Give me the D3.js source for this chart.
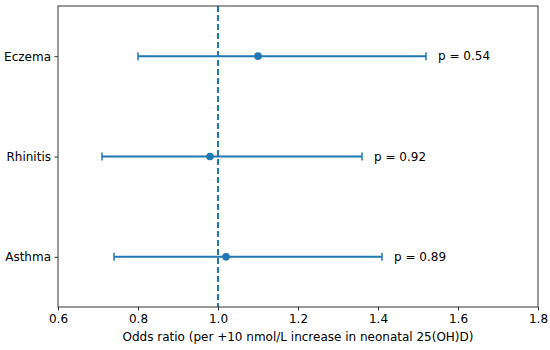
<!DOCTYPE html>
<html><head><meta charset="utf-8">
<script src="https://cdn.jsdelivr.net/npm/d3@7"></script>
<style>body{margin:0;background:#fff}text{font-family:"DejaVu Sans",sans-serif}</style>
</head><body>
<svg id="c" width="550" height="350"></svg>
<script>
const outcomes = ["Asthma", "Rhinitis", "Eczema"];
const oddsRatios = [1.02, 0.98, 1.10];
const lowerCI = [0.74, 0.71, 0.80];
const upperCI = [1.41, 1.36, 1.52];
const pLabels = ["p = 0.89", "p = 0.92", "p = 0.54"];
const xTicks = [0.6, 0.8, 1.0, 1.2, 1.4, 1.6, 1.8];
const xLabel = "Odds ratio (per +10 nmol/L increase in neonatal 25(OH)D)";

const m = {l:58, r:12, t:6, b:43};
const W = 550, H = 350;
const svg = d3.select("#c");
const x = d3.scaleLinear().domain([0.6, 1.8]).range([m.l, W - m.r]);
const y = d3.scaleLinear().domain([-0.5, 2.5]).range([H - m.b, m.t]);
const col = "#1f77b4";

const g = svg.append("g");
// reference line
g.append("line").attr("x1", x(1)).attr("x2", x(1)).attr("y1", m.t).attr("y2", H - m.b)
  .attr("stroke", col).attr("stroke-width", 2).attr("stroke-dasharray", "6,3");

outcomes.forEach((o, i) => {
  const yy = y(i);
  g.append("line").attr("x1", x(lowerCI[i])).attr("x2", x(upperCI[i])).attr("y1", yy).attr("y2", yy)
    .attr("stroke", col).attr("stroke-width", 2);
  [lowerCI[i], upperCI[i]].forEach(v => {
    g.append("line").attr("x1", x(v)).attr("x2", x(v)).attr("y1", yy - 4).attr("y2", yy + 4)
      .attr("stroke", col).attr("stroke-width", 1.5);
  });
  g.append("circle").attr("cx", x(oddsRatios[i])).attr("cy", yy).attr("r", 3.8).attr("fill", col);
  g.append("text").attr("x", x(upperCI[i] + 0.03)).attr("y", yy).attr("dy", "0.35em")
    .attr("font-size", 12).attr("fill", "#000").text(pLabels[i]);
});

// axes
const xa = svg.append("g").attr("transform", `translate(0,${H - m.b})`)
  .call(d3.axisBottom(x).tickValues(xTicks).tickFormat(d3.format(".1f")).tickSizeOuter(0).tickSize(3.5).tickPadding(3.5));
const ya = svg.append("g").attr("transform", `translate(${m.l},0)`)
  .call(d3.axisLeft(y).tickValues([0,1,2]).tickFormat(i => outcomes[i]).tickSizeOuter(0).tickSize(3.5).tickPadding(3.5));
[xa, ya].forEach(a => {
  a.selectAll("text").attr("font-size", 12).attr("fill", "#000").style("font-family", "DejaVu Sans");
  a.selectAll("line").attr("stroke", "#333");
  a.select(".domain").remove();
});
// frame
svg.append("rect").attr("x", m.l).attr("y", m.t).attr("width", W - m.r - m.l).attr("height", H - m.b - m.t)
  .attr("fill", "none").attr("stroke", "#333").attr("stroke-width", 1);

svg.append("text").attr("x", (m.l + W - m.r) / 2).attr("y", 341).attr("text-anchor", "middle")
  .attr("font-size", 12).attr("fill", "#000").text(xLabel);
</script>
</body></html>
